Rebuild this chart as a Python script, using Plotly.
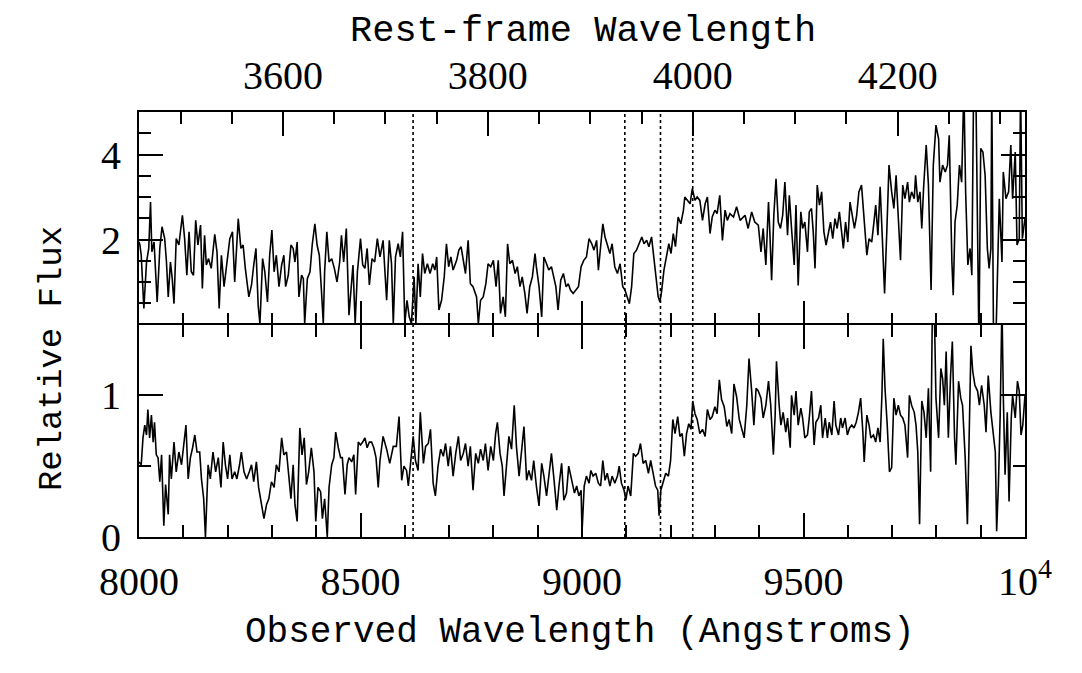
import plotly.graph_objects as go

# ---------------- data ----------------
one_plus_z = 2.3125                      # observed / rest-frame wavelength
line_rest = [3727.0, 3933.7, 3968.5, 4000.0]   # rest-frame features marked by dotted lines

obs_range = [8000, 10000]
obs_tickvals = [8000, 8500, 9000, 9500, 10000]
obs_ticktext = ["8000", "8500", "9000", "9500", "10<sup>4</sup>"]
top_y_tickvals = [2, 4]
top_y_range = [0, 5]
bot_y_range = [0, 1.5]

top_wave = [8000, 8002, 8005, 8011, 8017, 8022, 8026, 8029, 8034, 8041, 8047, 8052, 8058, 8062, 8066,
            8071, 8075, 8079, 8084, 8090, 8098, 8103, 8108, 8113, 8118, 8123, 8128, 8133, 8139, 8143,
            8148, 8152, 8157, 8163, 8171, 8176, 8181, 8186, 8192, 8197, 8205, 8211, 8216, 8224, 8230,
            8235, 8240, 8248, 8254, 8259, 8264, 8269, 8273, 8279, 8284, 8290, 8295, 8300, 8305, 8310,
            8316, 8322, 8327, 8331, 8337, 8343, 8348, 8352, 8357, 8361, 8367, 8371, 8374, 8380, 8386,
            8391, 8397, 8402, 8407, 8412, 8416, 8419, 8424, 8429, 8435, 8441, 8447, 8453, 8457, 8462,
            8468, 8474, 8480, 8483, 8488, 8493, 8500, 8505, 8510, 8515, 8520, 8526, 8532, 8538,
            8544, 8551, 8559, 8565, 8570, 8574, 8579, 8585, 8590, 8595, 8600, 8605, 8610, 8615, 8621,
            8625, 8630, 8635, 8640, 8645, 8651, 8657, 8663, 8668, 8672, 8677, 8683, 8689, 8694, 8699,
            8704, 8709, 8717, 8722, 8727, 8732, 8737, 8743, 8748, 8754, 8762, 8766, 8771, 8777, 8783,
            8788, 8794, 8800, 8806, 8811, 8816, 8822, 8827, 8832, 8837, 8843, 8849, 8854, 8860, 8865,
            8871, 8876, 8882, 8888, 8894, 8897, 8903, 8909, 8914, 8920, 8925, 8931, 8935, 8941, 8946,
            8952, 8958, 8964, 8969, 8974, 8980, 8986, 8992, 8998, 9004, 9010, 9016, 9022, 9027, 9033,
            9037, 9042, 9047, 9052, 9057, 9063, 9068, 9074, 9080, 9086, 9092, 9097, 9102, 9107, 9112,
            9117, 9123, 9129, 9135, 9140, 9146, 9151, 9157, 9162, 9167, 9172, 9176, 9180, 9185, 9191,
            9196, 9201, 9206, 9211, 9217, 9223, 9229, 9232, 9238, 9244, 9249, 9255, 9260, 9266, 9272,
            9278, 9283, 9289, 9294, 9300, 9305, 9311, 9317, 9323, 9328, 9334, 9342, 9349, 9357,
            9360, 9368, 9375, 9383, 9390, 9398, 9404, 9409, 9415, 9421, 9424, 9428, 9433, 9438, 9443,
            9448, 9453, 9458, 9464, 9468, 9473, 9479, 9483, 9488, 9494, 9498, 9503, 9509, 9513, 9518,
            9522, 9526, 9531, 9536, 9541, 9546, 9551, 9556, 9561, 9566, 9571, 9576, 9581, 9586, 9590,
            9595, 9600, 9605, 9610, 9615, 9620, 9625, 9631, 9637, 9643, 9648, 9654, 9659, 9663, 9668,
            9673, 9678, 9683, 9688, 9693, 9699, 9704, 9709, 9714, 9719, 9724, 9729, 9735, 9739, 9744,
            9750, 9753, 9758, 9763, 9767, 9771, 9777, 9782, 9788, 9793, 9799, 9805, 9808, 9814, 9820,
            9825, 9829, 9835, 9838, 9842, 9847, 9852, 9857, 9862, 9866, 9871, 9876, 9880, 9884, 9889,
            9893, 9896, 9900, 9905, 9910, 9915, 9919, 9923, 9925, 9929, 9934, 9939, 9942, 9948, 9951,
            9957, 9963, 9968, 9972, 9978, 9982, 9987, 9990, 9994, 10000]
top_flux = [1.95, 1.87, 1.63, 0.38, 1.47, 1.79, 2.88, 1.71, 1.94, 0.53, 1.79, 2.30, 2.02, 1.47, 0.65,
            1.47, 1.08, 0.49, 2.02, 1.87, 2.57, 2.02, 1.16, 2.18, 1.24, 1.16, 2.45, 1.87, 2.34, 0.85,
            2.10, 1.40, 1.55, 1.32, 2.12, 1.71, 0.38, 1.63, 0.89, 1.32, 2.02, 2.18, 1.00, 2.49, 1.79,
            1.87, 1.32, 0.65, 0.93, 1.40, 1.79, 0.45, 0.02, 1.55, 1.24, 0.53, 1.63, 2.22, 1.24, 1.63,
            0.89, 1.40, 1.63, 0.89, 1.16, 1.87, 1.79, 1.47, 1.94, 0.65, 1.16, 1.08, 0.02, 1.08, 1.24,
            1.87, 2.37, 1.87, 1.63, 0.77, 0.02, 1.24, 2.18, 1.47, 1.55, 1.32, 1.00, 1.47, 2.10, 1.47,
            2.26, 0.22, 1.16, 1.40, 0.02, 1.24, 2.02, 1.40, 1.32, 1.79, 0.93, 1.55, 1.47, 2.02,
            1.59, 1.98, 0.57, 1.98, 1.43, 0.02, 1.59, 1.90, 1.59, 2.18, 0.02, 0.57, 0.18, 0.02, 1.12,
            0.02, 1.43, 0.65, 1.67, 1.20, 1.43, 1.20, 1.43, 1.28, 1.59, 0.34, 0.57, 1.12, 1.90, 1.36,
            1.59, 1.28, 1.51, 1.75, 1.83, 1.51, 1.20, 1.98, 0.96, 0.89, 0.65, 0.02, 0.57, 0.65, 0.96,
            1.43, 1.36, 1.51, 0.89, 1.51, 0.26, 0.65, 0.18, 1.90, 1.43, 1.51, 1.20, 1.36, 0.89, 1.12,
            0.73, 0.26, 0.89, 1.12, 1.67, 1.36, 0.89, 0.18, 1.59, 1.43, 1.28, 1.36, 1.20, 0.89, 0.34,
            1.04, 1.20, 0.89, 0.96, 0.81, 0.73, 0.81, 0.89, 1.36, 1.51, 1.59, 2.02, 1.90, 1.75, 1.98,
            1.28, 1.83, 2.37, 2.06, 1.90, 1.67, 1.90, 1.36, 1.20, 1.43, 0.89, 0.81, 0.65, 0.49, 0.89,
            1.67, 1.75, 1.90, 2.06, 1.90, 1.98, 1.83, 2.06, 1.59, 1.04, 0.65, 0.53, 0.81, 1.28, 1.59,
            1.90, 1.67, 2.14, 1.83, 2.53, 2.37, 2.69, 3.00, 2.92, 2.84, 3.20, 2.92, 3.00, 2.92, 2.45,
            2.84, 3.00, 2.14, 2.53, 2.69, 2.61, 3.04, 1.98, 2.69, 2.45, 2.61, 2.53, 2.77, 2.45,
            2.49, 2.57, 2.26, 2.65, 2.41, 2.34, 1.71, 2.26, 1.40, 2.88, 2.18, 1.04, 2.57, 3.43, 2.41,
            2.26, 2.57, 3.35, 2.10, 3.04, 2.26, 1.40, 2.81, 0.92, 2.65, 2.26, 2.41, 1.71, 2.65, 2.73,
            2.18, 1.32, 3.28, 2.81, 3.12, 2.18, 1.87, 2.18, 2.41, 2.02, 2.49, 2.26, 2.65, 2.18, 1.79,
            2.41, 1.94, 2.88, 2.57, 2.26, 2.57, 3.12, 3.28, 2.41, 1.63, 2.02, 1.94, 2.41, 2.81, 2.10,
            3.24, 2.02, 0.73, 2.18, 3.75, 3.12, 2.73, 3.51, 2.57, 1.51, 3.28, 2.96, 3.35, 2.88, 3.12,
            2.96, 3.51, 2.88, 3.12, 2.26, 3.20, 4.22, 3.28, 0.81, 3.75, 4.69, 4.37, 3.35, 3.75, 3.59,
            3.75, 4.45, 1.47, 0.69, 2.41, 2.81, 3.75, 3.35, 5.60, 3.12, 1.40, 1.79, 1.16, 5.60, 5.60,
            2.02, -0.50, 4.14, 4.06, 3.51, 1.79, 1.32, 1.79, 5.60, -0.50, -0.50, 2.02, 2.96, 1.47, 3.59,
            2.96, 3.12, 4.22, 2.96, 4.06, 1.87, 2.02, 5.60, 2.02, 2.50]

bot_wave = [8000, 8005, 8009, 8013, 8017, 8020, 8024, 8028, 8032, 8035, 8039, 8043, 8047, 8051, 8056,
            8060, 8066, 8069, 8073, 8079, 8084, 8090, 8096, 8101, 8106, 8111, 8116, 8121, 8126, 8131,
            8137, 8141, 8146, 8150, 8156, 8161, 8167, 8173, 8179, 8185, 8190, 8195, 8200, 8205, 8210,
            8216, 8221, 8227, 8231, 8237, 8243, 8249, 8254, 8259, 8265, 8270, 8276, 8282, 8288, 8293,
            8299, 8305, 8310, 8316, 8322, 8327, 8333, 8338, 8343, 8348, 8352, 8357, 8363, 8368, 8373,
            8378, 8383, 8389, 8395, 8399, 8404, 8410, 8414, 8419, 8425, 8429, 8435, 8440, 8444, 8450,
            8455, 8459, 8465, 8470, 8474, 8480, 8485, 8489, 8495, 8500, 8505, 8510, 8515, 8520, 8525,
            8530, 8535, 8540,
            8544, 8551, 8559, 8566, 8574, 8581, 8587, 8593, 8598, 8604, 8608, 8613, 8619, 8624, 8630,
            8635, 8642, 8647, 8653, 8658, 8664, 8669, 8675, 8681, 8687, 8692, 8698, 8703, 8709, 8715,
            8721, 8726, 8732, 8737, 8743, 8748, 8754, 8760, 8766, 8771, 8777, 8782, 8788, 8794, 8800,
            8805, 8809, 8815, 8820, 8824, 8830, 8835, 8841, 8847, 8852, 8858, 8864, 8869, 8875, 8880,
            8886, 8891, 8897, 8903, 8909, 8914, 8920, 8925, 8931, 8937, 8943, 8948, 8954, 8959, 8965,
            8970, 8977, 8983, 8988, 8993, 8998, 9000, 9005, 9010, 9016, 9020, 9025, 9031, 9037, 9042,
            9047, 9052, 9057, 9063, 9068, 9074, 9080, 9084, 9089, 9095, 9099, 9104, 9110, 9116, 9121,
            9127, 9132, 9138, 9144, 9150, 9155, 9161, 9166, 9171, 9174, 9178, 9184, 9189, 9195, 9200,
            9205, 9210, 9216, 9221, 9226, 9231, 9236, 9241, 9246, 9250, 9255, 9260, 9266, 9272, 9278,
            9283, 9289, 9294, 9300, 9305, 9310, 9315, 9321, 9327, 9332, 9338, 9343, 9349, 9355,
            9366, 9372, 9377, 9383, 9388, 9393, 9398, 9404, 9409, 9415, 9421, 9426, 9432, 9436, 9439,
            9445, 9449, 9454, 9460, 9464, 9470, 9473, 9479, 9483, 9488, 9494, 9498, 9503, 9509, 9513,
            9518, 9524, 9528, 9534, 9539, 9543, 9549, 9554, 9558, 9564, 9569, 9573, 9579, 9584, 9588,
            9594, 9599, 9604, 9609, 9614, 9619, 9624, 9629, 9634, 9637, 9643, 9648, 9652, 9658, 9663,
            9668, 9673, 9677, 9680, 9684, 9689, 9694, 9699, 9704, 9709, 9714, 9719, 9724, 9729, 9735,
            9739, 9744, 9750, 9754, 9758, 9762, 9767, 9772, 9777, 9782, 9787, 9791, 9795, 9799, 9805,
            9810, 9814, 9818, 9822, 9827, 9832, 9836, 9841, 9844, 9850, 9855, 9859, 9865, 9870, 9874,
            9878, 9882, 9887, 9893, 9897, 9902, 9908, 9912, 9917, 9923, 9927, 9933, 9936, 9940, 9944,
            9948, 9951, 9955, 9960, 9964, 9969, 9972, 9978, 9983, 9987, 9991, 9995, 10000]
bot_flux = [0.53, 0.51, 0.70, 0.79, 0.72, 0.90, 0.70, 0.86, 0.67, 0.81, 0.58, 0.56, 0.39, 0.58, 0.08,
            0.37, 0.16, 0.58, 0.41, 0.67, 0.46, 0.60, 0.51, 0.63, 0.79, 0.41, 0.56, 0.63, 0.72, 0.60,
            0.60, 0.41, 0.27, 0.00, 0.51, 0.41, 0.60, 0.46, 0.56, 0.35, 0.67, 0.51, 0.41, 0.58, 0.41,
            0.46, 0.41, 0.51, 0.60, 0.46, 0.41, 0.46, 0.51, 0.39, 0.53, 0.35, 0.23, 0.13, 0.23, 0.27,
            0.39, 0.35, 0.51, 0.46, 0.70, 0.58, 0.60, 0.41, 0.27, 0.51, 0.23, 0.11, 0.77, 0.58, 0.70,
            0.37, 0.46, 0.63, 0.46, 0.11, 0.35, 0.32, 0.13, 0.27, 0.00, 0.35, 0.51, 0.56, 0.74, 0.63,
            0.56, 0.56, 0.30, 0.51, 0.56, 0.53, 0.58, 0.30, 0.67, 0.65, 0.67, 0.70, 0.63, 0.67, 0.67,
            0.63, 0.56, 0.35,
            0.54, 0.71, 0.62, 0.52, 0.64, 0.64, 0.85, 0.40, 0.50, 0.47, 0.36, 0.52, 0.71, 0.54, 0.47,
            0.88, 0.52, 0.64, 0.66, 0.76, 0.38, 0.29, 0.50, 0.62, 0.57, 0.66, 0.50, 0.64, 0.43, 0.59,
            0.71, 0.54, 0.59, 0.66, 0.50, 0.64, 0.33, 0.59, 0.52, 0.62, 0.54, 0.66, 0.47, 0.64, 0.54,
            0.73, 0.81, 0.59, 0.50, 0.29, 0.52, 0.71, 0.62, 0.93, 0.64, 0.43, 0.62, 0.78, 0.40, 0.47,
            0.40, 0.54, 0.36, 0.22, 0.52, 0.43, 0.29, 0.45, 0.59, 0.40, 0.19, 0.36, 0.52, 0.26, 0.31,
            0.50, 0.40, 0.31, 0.36, 0.29, 0.33, 0.03, 0.36, 0.43, 0.38, 0.47, 0.43, 0.45, 0.38, 0.36,
            0.54, 0.40, 0.45, 0.36, 0.43, 0.38, 0.43, 0.50, 0.38, 0.33, 0.26, 0.36, 0.29, 0.59, 0.57,
            0.59, 0.66, 0.52, 0.54, 0.45, 0.54, 0.43, 0.36, 0.33, 0.15, 0.33, 0.40, 0.45, 0.43, 0.54,
            0.83, 0.73, 0.85, 0.71, 0.73, 0.57, 0.73, 0.80, 0.76, 0.96, 0.87, 0.83, 0.73, 0.76, 0.71,
            0.90, 0.83, 0.85, 0.92, 0.87, 1.11, 0.97, 0.92, 0.78, 0.83, 0.73, 1.08, 0.99, 0.83,
            0.70, 0.93, 1.26, 1.03, 0.79, 1.05, 1.03, 0.98, 0.84, 0.93, 1.10, 0.93, 0.58, 0.86, 1.24,
            0.93, 0.79, 0.88, 0.74, 0.84, 0.63, 1.00, 0.86, 1.03, 0.79, 0.91, 0.84, 0.70, 0.72, 0.84,
            1.03, 0.65, 0.81, 0.84, 0.93, 0.70, 0.84, 0.70, 0.81, 0.72, 0.96, 0.79, 0.72, 0.84, 0.77,
            0.84, 0.72, 0.77, 0.79, 0.77, 0.81, 0.88, 0.98, 0.74, 0.53, 0.86, 0.79, 0.70, 0.72, 0.67,
            0.77, 0.67, 1.00, 1.40, 1.05, 0.79, 0.46, 0.49, 0.98, 0.86, 0.93, 0.86, 0.84, 0.79, 0.56,
            1.00, 0.93, 0.88, 0.79, 0.60, 0.09, 0.96, 0.88, 0.70, 1.05, 0.46, 1.65, 1.65, 0.98, 0.70,
            1.19, 1.12, 0.93, 1.31, 0.70, 1.14, 1.38, 0.70, 0.51, 1.10, 0.98, 0.93, 0.56, 0.09, 0.81,
            1.35, 1.17, 1.07, 1.03, 0.93, 1.07, 0.93, 0.74, 1.14, 0.88, 0.77, 0.60, 0.04, 0.37, 0.86,
            1.65, 1.00, 0.44, 0.88, 0.25, 0.84, 1.00, 0.84, 1.10, 1.03, 0.72, 0.79, 1.00]

# ---------------- figure ----------------
INK = "black"
tick_font = dict(family="Liberation Serif", size=40, color=INK)
title_font = dict(family="Liberation Mono", size=36, color=INK)
spec_line = dict(color=INK, width=1.6)

fig = go.Figure()
fig.add_trace(go.Scatter(x=top_wave, y=top_flux, xaxis="x2", yaxis="y2", mode="lines",
                         line=spec_line, showlegend=False, hoverinfo="skip", cliponaxis=True))
fig.add_trace(go.Scatter(x=bot_wave, y=bot_flux, xaxis="x", yaxis="y", mode="lines",
                         line=spec_line, showlegend=False, hoverinfo="skip", cliponaxis=True))
# anchor trace for the rest-frame axis
fig.add_trace(go.Scatter(x=line_rest, y=[None] * len(line_rest), xaxis="x3", yaxis="y2",
                         mode="lines", showlegend=False, hoverinfo="skip"))

for lr in line_rest:
    fig.add_shape(type="line", xref="x3", yref="paper", x0=lr, x1=lr, y0=0, y1=1,
                  line=dict(color=INK, width=1.6, dash="dot"), layer="above")

common_axis = dict(showgrid=False, zeroline=False, showline=True, linecolor=INK, linewidth=2,
                   ticks="inside", ticklen=24, tickwidth=1.5, tickcolor=INK, tickfont=tick_font)
minor_common = dict(ticklen=12, tickwidth=1.5, tickcolor=INK, ticks="inside")

fig.update_layout(
    width=1082, height=673,
    margin=dict(l=139, r=57, t=112, b=136),
    plot_bgcolor="white", paper_bgcolor="white",
    showlegend=False,
    xaxis=dict(common_axis, domain=[0, 1], anchor="y", range=obs_range,
               tickmode="array", tickvals=obs_tickvals, ticktext=obs_ticktext,
               minor=dict(minor_common, tickmode="linear", tick0=8000, dtick=100),
               mirror="ticks", ticklabelstandoff=8),
    xaxis2=dict(common_axis, domain=[0, 1], anchor="y2", matches="x", range=obs_range,
                tickmode="array", tickvals=obs_tickvals, showticklabels=False,
                minor=dict(minor_common, tickmode="linear", tick0=8000, dtick=100),
                showline=False, mirror=False),
    xaxis3=dict(common_axis, anchor="y2", overlaying="x2", side="top",
                range=[obs_range[0] / one_plus_z, obs_range[1] / one_plus_z],
                tickmode="linear", tick0=0, dtick=200,
                minor=dict(minor_common, tickmode="linear", tick0=0, dtick=50),
                ticklabelstandoff=5),
    yaxis=dict(common_axis, domain=[0, 0.5], anchor="x", range=bot_y_range,
               tickmode="linear", tick0=0, dtick=1,
               minor=dict(minor_common, tickmode="linear", tick0=0, dtick=0.5),
               mirror="ticks", ticklabelstandoff=8),
    yaxis2=dict(common_axis, domain=[0.5, 1], anchor="x2", range=top_y_range,
                tickmode="array", tickvals=top_y_tickvals,
                minor=dict(minor_common, tickmode="linear", tick0=0, dtick=0.5),
                mirror="ticks", ticklabelstandoff=8),
    annotations=[
        dict(text="Rest-frame Wavelength", xref="paper", yref="paper", x=0.501, y=1.19,
             xanchor="center", yanchor="middle", showarrow=False, font=dict(title_font, size=37)),
        dict(text="Observed Wavelength (Angstroms)", xref="paper", yref="paper", x=0.498, y=-0.224,
             xanchor="center", yanchor="middle", showarrow=False, font=title_font),
        dict(text="Relative Flux", xref="paper", yref="paper", x=-0.098, y=0.419,
             xanchor="center", yanchor="middle", showarrow=False, textangle=-90,
             font=dict(title_font, size=34)),
    ],
)

fig.write_html("out.html")
